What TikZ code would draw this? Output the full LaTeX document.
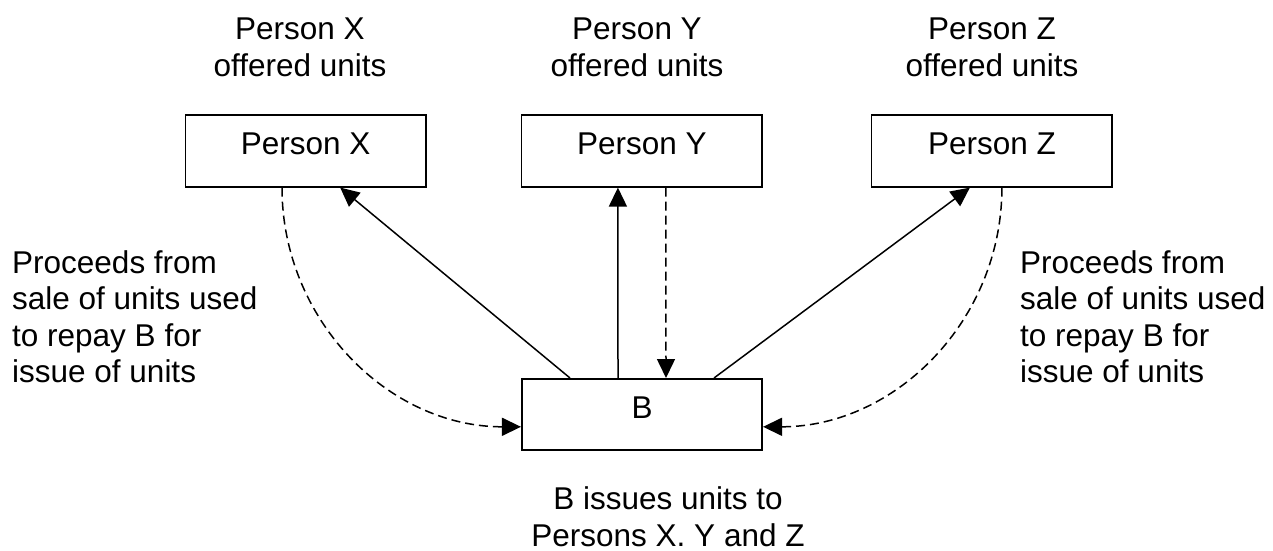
\documentclass[tikz,border=0pt]{standalone}
\usepackage{fontspec}
\setmainfont{Liberation Sans}
\usetikzlibrary{arrows.meta}
\begin{document}
\begin{tikzpicture}[x=1pt,y=-1pt,
  txt/.style={inner sep=0pt,font=\fontsize{31.5}{36.5}\selectfont},
  pbox/.style={draw,line width=1.6pt,inner sep=0pt,minimum width=240.5pt,
    text height=40pt,text depth=32pt,anchor=north,font=\fontsize{31.5}{36.5}\selectfont},
  solidarr/.style={line width=1.5pt,-{Triangle[length=19pt,width=18pt]}},
  dasharr/.style={line width=1.5pt,dash pattern=on 9pt off 5pt,-{Triangle[length=19pt,width=18pt]}}]
\useasboundingbox (0,0) rectangle (1273,550);
% boxes
\node[pbox] (X) at (305.7,114) {Person X};
\node[pbox] (Y) at (641.9,114) {Person Y};
\node[pbox] (Z) at (991.9,114) {Person Z};
\node[pbox,text depth=31pt] (B) at (642,378) {B};
% captions (anchor=base is the last line's baseline)
\node[txt,anchor=base,align=center] (cx) at (300,76) {Person X\\offered units};
\node[txt,anchor=base,align=center] (cy) at (637,76) {Person Y\\offered units};
\node[txt,anchor=base,align=center] (cz) at (992,76) {Person Z\\offered units};
\node[txt,anchor=base west,align=left] (tl) at (12,382.5) {Proceeds from\\sale of units used\\to repay B for\\issue of units};
\node[txt,anchor=base west,align=left] (tr) at (1020,382.5) {Proceeds from\\sale of units used\\to repay B for\\issue of units};
\node[txt,anchor=base,align=center] (cb) at (668,546) {B issues units to\\Persons X. Y and Z};
% solid arrows
\draw[solidarr] ([xshift=-72pt]B.north) -- ([xshift=34.5pt]X.south);
\draw[solidarr] ([xshift=-24pt]B.north) -- ([xshift=-24pt]Y.south);
\draw[solidarr] ([xshift=72pt]B.north) -- ([xshift=-22pt]Z.south);
% dashed arrows
\draw[dasharr] ([xshift=24pt]Y.south) -- ([xshift=24pt]B.north);
\coordinate (xs) at ([xshift=-23.7pt]X.south);
\coordinate (bw) at ([yshift=-12.5pt]B.west);
\draw[dasharr] (xs) .. controls ([yshift=-132.5pt]xs) and ([xshift=-132.5pt]bw) .. (bw);
\coordinate (zs) at ([xshift=10pt]Z.south);
\coordinate (be) at ([yshift=-12.5pt]B.east);
\draw[dasharr] (zs) .. controls ([yshift=-132.5pt]zs) and ([xshift=132.5pt]be) .. (be);
\end{tikzpicture}
\end{document}
